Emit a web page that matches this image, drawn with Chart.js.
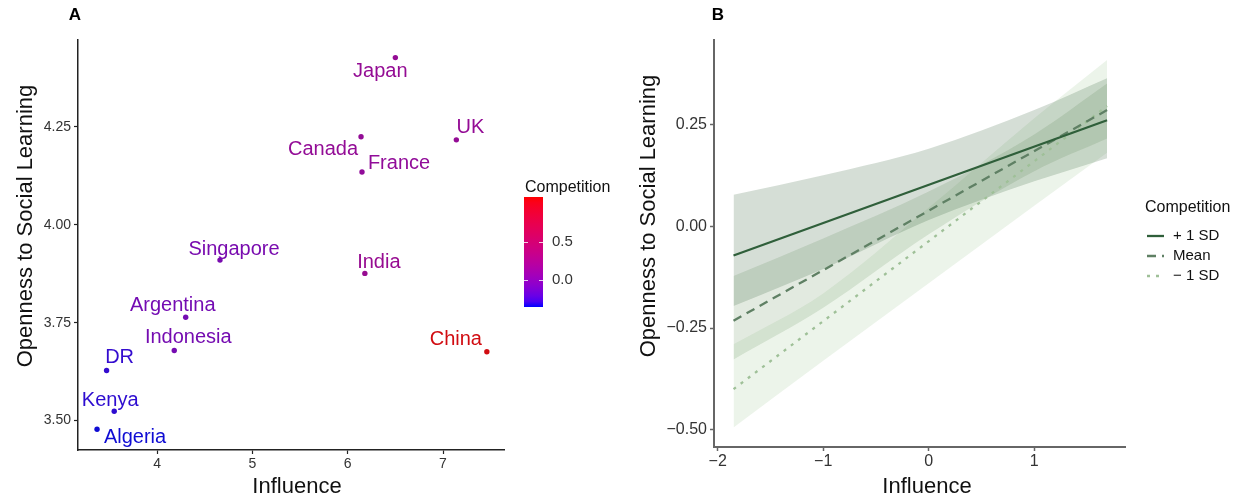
<!DOCTYPE html>
<html>
<head>
<meta charset="utf-8">
<script src="https://cdn.jsdelivr.net/npm/chart.js@4.4.1/dist/chart.umd.min.js"></script>
<style>
  html, body { margin: 0; padding: 0; background: #fff; }
  #wrap { position: relative; width: 1250px; height: 501px; overflow: hidden; }
  canvas { position: absolute; top: 0; }
  #chartA { left: 0; }
  #chartB { left: 630px; }
</style>
</head>
<body>
<div id="wrap">
  <canvas id="chartA" width="630" height="501"></canvas>
  <canvas id="chartB" width="620" height="501"></canvas>
</div>
<script>
// Panel A data
const countries = ['Japan', 'Canada', 'UK', 'France', 'Singapore', 'India', 'Argentina', 'Indonesia', 'China', 'DR', 'Kenya', 'Algeria'];
const influence = [6.50, 6.14, 7.14, 6.15, 4.66, 6.18, 4.30, 4.18, 7.46, 3.47, 3.55, 3.37];
const openness = [4.427, 4.225, 4.217, 4.135, 3.910, 3.876, 3.764, 3.679, 3.676, 3.628, 3.524, 3.478];
const competition = [0.14, 0.12, 0.13, 0.10, -0.08, 0.16, -0.11, -0.10, 1.09, -0.33, -0.34, -0.36];
const xTicksA = [4, 5, 6, 7];
const yTicksA = [3.50, 3.75, 4.00, 4.25];
const colorbarTicks = [0.0, 0.5];

// Panel B data
const groupNames = ['+ 1 SD', 'Mean', '\u2212 1 SD'];
const lineX = [-1.85, 1.69];
const linePlus = [-0.072, 0.260];
const lineMean = [-0.232, 0.285];
const lineMinus = [-0.400, 0.295];
const bandX = [-1.85, -1, 0, 1, 1.69];
const plusUpper = [0.077, 0.125, 0.190, 0.285, 0.363];
const plusLower = [-0.196, -0.105, 0.015, 0.110, 0.167];
const meanUpper = [-0.122, -0.030, 0.085, 0.225, 0.350];
const meanLower = [-0.327, -0.200, -0.020, 0.135, 0.215];
const minusUpper = [-0.290, -0.165, 0.045, 0.265, 0.408];
const minusLower = [-0.494, -0.330, -0.140, 0.050, 0.180];
const xTicksB = [-2, -1, 0, 1];
const yTicksB = [-0.50, -0.25, 0.00, 0.25];

const FONT = '"Liberation Sans", Arial, Helvetica, sans-serif';

// label nudges (px) for the country names
const labelNudge = {
    Japan: [-15, 14], Canada: [-38, 13], UK: [14, -12], France: [37, -8],
    Singapore: [14, -11], India: [14, -11], Argentina: [-13, -12], Indonesia: [14, -13],
    China: [-31, -12], DR: [13, -13], Kenya: [-4, -11], Algeria: [38, 8]
};

// blue -> red gradient in Lab space (like ggplot's default)
function lin(c) { c /= 255; return c <= 0.04045 ? c / 12.92 : Math.pow((c + 0.055) / 1.055, 2.4); }
function unlin(c) { c = c <= 0.0031308 ? 12.92 * c : 1.055 * Math.pow(c, 1 / 2.4) - 0.055; return Math.round(Math.max(0, Math.min(1, c)) * 255); }
function toLab(rgb) {
    const r = lin(rgb[0]), g = lin(rgb[1]), b = lin(rgb[2]);
    const f = t => t > 0.008856 ? Math.cbrt(t) : 7.787 * t + 16 / 116;
    const fx = f((0.4124 * r + 0.3576 * g + 0.1805 * b) / 0.95047);
    const fy = f(0.2126 * r + 0.7152 * g + 0.0722 * b);
    const fz = f((0.0193 * r + 0.1192 * g + 0.9505 * b) / 1.08883);
    return [116 * fy - 16, 500 * (fx - fy), 200 * (fy - fz)];
}
function fromLab(lab) {
    const fy = (lab[0] + 16) / 116, fx = fy + lab[1] / 500, fz = fy - lab[2] / 200;
    const inv = t => t > 0.206893 ? t * t * t : (t - 16 / 116) / 7.787;
    const X = inv(fx) * 0.95047, Y = inv(fy), Z = inv(fz) * 1.08883;
    const r = 3.2406 * X - 1.5372 * Y - 0.4986 * Z;
    const g = -0.9689 * X + 1.8758 * Y + 0.0415 * Z;
    const b = 0.0557 * X - 0.2040 * Y + 1.0570 * Z;
    return [unlin(r), unlin(g), unlin(b)];
}
const labLow = toLab([0, 0, 255]);
const labHigh = toLab([255, 0, 0]);
const compMin = Math.min(...competition);
const compMax = Math.max(...competition);
function compRgb(v) {
    const t = (v - compMin) / (compMax - compMin);
    return fromLab([0, 1, 2].map(k => labLow[k] + (labHigh[k] - labLow[k]) * t));
}
function rgbStr(c) { return 'rgb(' + c.join(',') + ')'; }
// the printed labels/points look a bit duller than the pure scale colours
function markColor(v) {
    const c = compRgb(v);
    return rgbStr(c.map((x, k) => Math.round(x * 0.76 + [64, 48, 70][k] * 0.24)));
}
const pointColors = competition.map(markColor);

function fmtMinus(s) { return String(s).replace('-', '\u2212'); }

function drawText(ctx, text, x, y, font, color, align, rotate) {
    ctx.save();
    ctx.font = font;
    ctx.fillStyle = color;
    ctx.textAlign = align || 'center';
    ctx.textBaseline = 'middle';
    ctx.translate(x, y);
    if (rotate) ctx.rotate(rotate);
    ctx.fillText(text, 0, 0);
    ctx.restore();
}

const panelA = {
    id: 'panelA',
    afterDatasetsDraw(chart) {
        const ctx = chart.ctx;
        const meta = chart.getDatasetMeta(0);
        countries.forEach((name, i) => {
            const pt = meta.data[i];
            const n = labelNudge[name];
            drawText(ctx, name, pt.x + n[0], pt.y + n[1], '20px ' + FONT, pointColors[i]);
        });
    },
    afterDraw(chart) {
        const ctx = chart.ctx;
        drawText(ctx, 'A', 75, 15, 'bold 17px ' + FONT, '#000');
        drawText(ctx, 'Influence', 297, 487, '22px ' + FONT, '#111');
        drawText(ctx, 'Openness to Social Learning', 26, 226, '22px ' + FONT, '#111', 'center', -Math.PI / 2);

        // colour bar legend
        const barL = 524, barW = 19, barTop = 197, barBot = 307;
        const yOf = v => barBot - (v - compMin) / (compMax - compMin) * (barBot - barTop);
        const grad = ctx.createLinearGradient(0, barBot, 0, barTop);
        for (let s = 0; s <= 20; s++) {
            grad.addColorStop(s / 20, rgbStr(compRgb(compMin + (compMax - compMin) * s / 20)));
        }
        ctx.fillStyle = grad;
        ctx.fillRect(barL, barTop, barW, barBot - barTop);
        ctx.strokeStyle = 'rgba(255,255,255,0.8)';
        ctx.lineWidth = 1;
        colorbarTicks.forEach(v => {
            const y = Math.round(yOf(v)) + 0.5;
            ctx.beginPath();
            ctx.moveTo(barL, y); ctx.lineTo(barL + 4, y);
            ctx.moveTo(barL + barW - 4, y); ctx.lineTo(barL + barW, y);
            ctx.stroke();
            drawText(ctx, v.toFixed(1), barL + barW + 9, yOf(v), '15px ' + FONT, '#333', 'left');
        });
        drawText(ctx, 'Competition', 525, 188, '16px ' + FONT, '#111', 'left');
    }
};

const chartA = new Chart(document.getElementById('chartA'), {
    type: 'scatter',
    data: {
        datasets: [{
            data: influence.map((x, i) => ({ x: x, y: openness[i] })),
            pointBackgroundColor: pointColors,
            pointBorderWidth: 0,
            pointRadius: 2.7
        }]
    },
    options: {
        responsive: false,
        animation: false,
        layout: { padding: { left: 12, right: 126, top: 40, bottom: 0 } },
        plugins: { legend: { display: false }, tooltip: { enabled: false } },
        scales: {
            x: {
                type: 'linear', min: 3.17, max: 7.64,
                afterBuildTicks: s => { s.ticks = xTicksA.map(v => ({ value: v })); },
                afterFit: s => { s.height = 51; },
                ticks: { font: { family: FONT, size: 14 }, color: '#333', padding: 2 },
                grid: { drawOnChartArea: false, tickLength: 4, tickColor: '#222', tickWidth: 1.2 },
                border: { color: '#222', width: 1.5 }
            },
            y: {
                type: 'linear', min: 3.425, max: 4.472,
                afterBuildTicks: s => { s.ticks = yTicksA.map(v => ({ value: v })); },
                afterFit: s => { s.width = 66; },
                ticks: { font: { family: FONT, size: 14 }, color: '#333', padding: 3, callback: v => v.toFixed(2) },
                grid: { drawOnChartArea: false, tickLength: 4, tickColor: '#222', tickWidth: 1.2 },
                border: { color: '#222', width: 1.5 }
            }
        }
    },
    plugins: [panelA]
});

// Panel B
const lineColors = ['#2f5f3a', '#5f8064', '#9fc098'];
const lineDash = [[], [9, 6], [3, 6]];
const bandFills = ['rgba(46, 90, 52, 0.2)', 'rgba(110, 150, 100, 0.2)', 'rgba(160, 200, 150, 0.2)'];

function pts(xs, ys) { return xs.map((x, i) => ({ x: x, y: ys[i] })); }

function lineSet(ys, k) {
    return {
        data: pts(lineX, ys), borderColor: lineColors[k], borderWidth: 2.3,
        borderDash: lineDash[k], pointRadius: 0, fill: false
    };
}
function bandSet(ys, k, upper) {
    return {
        data: pts(bandX, ys), borderWidth: 0, borderColor: 'transparent', pointRadius: 0,
        backgroundColor: bandFills[k], fill: upper ? '+1' : false, cubicInterpolationMode: 'monotone'
    };
}

const panelB = {
    id: 'panelB',
    afterDraw(chart) {
        const ctx = chart.ctx;
        drawText(ctx, 'B', 88, 15, 'bold 17px ' + FONT, '#000');
        drawText(ctx, 'Influence', 297, 487, '22px ' + FONT, '#111');
        drawText(ctx, 'Openness to Social Learning', 19, 216, '22px ' + FONT, '#111', 'center', -Math.PI / 2);

        // legend
        drawText(ctx, 'Competition', 515, 208, '16px ' + FONT, '#111', 'left');
        const rowY = [236, 256, 276];
        groupNames.forEach((name, k) => {
            ctx.save();
            ctx.strokeStyle = lineColors[k];
            ctx.lineWidth = 2.3;
            ctx.setLineDash(lineDash[k]);
            ctx.beginPath();
            ctx.moveTo(517, rowY[k]);
            ctx.lineTo(534, rowY[k]);
            ctx.stroke();
            ctx.restore();
            drawText(ctx, name, 543, rowY[k], '15px ' + FONT, '#111', 'left');
        });
    }
};

const chartB = new Chart(document.getElementById('chartB'), {
    type: 'line',
    data: {
        datasets: [
            lineSet(linePlus, 0),
            lineSet(lineMean, 1),
            lineSet(lineMinus, 2),
            bandSet(plusUpper, 0, true),
            bandSet(plusLower, 0, false),
            bandSet(meanUpper, 1, true),
            bandSet(meanLower, 1, false),
            bandSet(minusUpper, 2, true),
            bandSet(minusLower, 2, false)
        ]
    },
    options: {
        responsive: false,
        animation: false,
        layout: { padding: { left: 20, right: 125, top: 40, bottom: 0 } },
        plugins: { legend: { display: false }, tooltip: { enabled: false } },
        scales: {
            x: {
                type: 'linear', min: -2.035, max: 1.86,
                afterBuildTicks: s => { s.ticks = xTicksB.map(v => ({ value: v })); },
                afterFit: s => { s.height = 54; },
                ticks: { font: { family: FONT, size: 16 }, color: '#333', padding: 1, callback: v => fmtMinus(v) },
                grid: { drawOnChartArea: false, tickLength: 4, tickColor: '#666', tickWidth: 1.5 },
                border: { color: '#666', width: 2 }
            },
            y: {
                type: 'linear', min: -0.542, max: 0.457,
                afterBuildTicks: s => { s.ticks = yTicksB.map(v => ({ value: v })); },
                afterFit: s => { s.width = 64; },
                ticks: { font: { family: FONT, size: 16 }, color: '#333', padding: 3, callback: v => fmtMinus(v.toFixed(2)) },
                grid: { drawOnChartArea: false, tickLength: 4, tickColor: '#666', tickWidth: 1.5 },
                border: { color: '#666', width: 2 }
            }
        }
    },
    plugins: [panelB]
});
</script>
</body>
</html>
